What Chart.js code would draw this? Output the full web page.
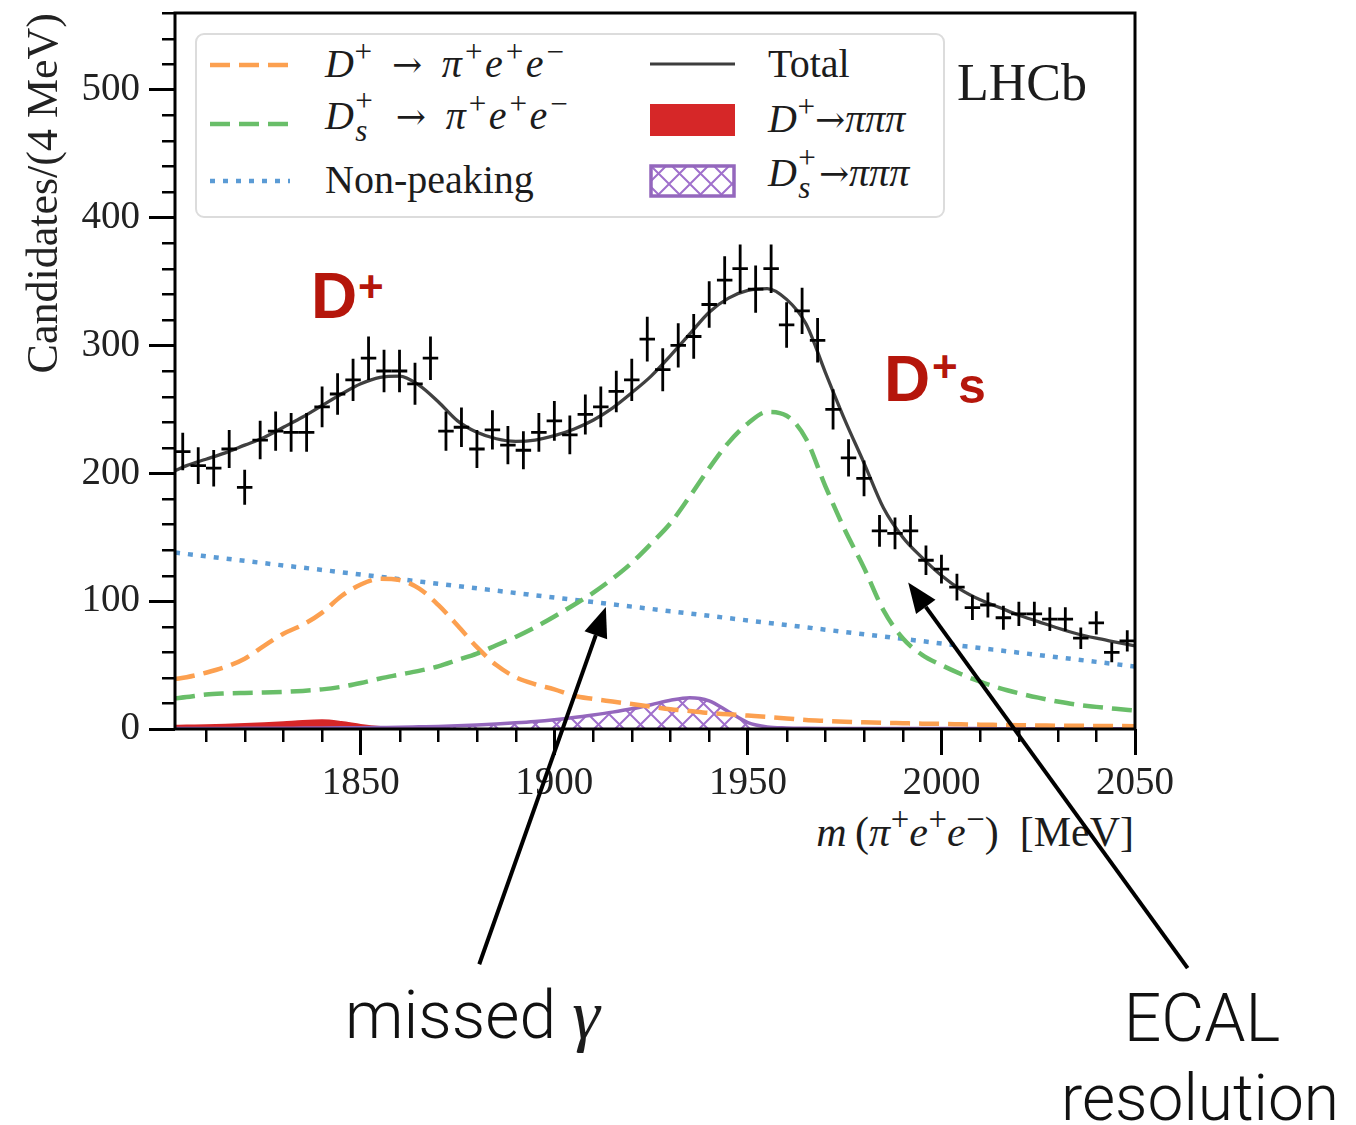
<!DOCTYPE html>
<html>
<head>
<meta charset="utf-8">
<title>m(π+e+e−) fit</title>
<script src="https://cdn.jsdelivr.net/npm/chart.js@4.4.1/dist/chart.umd.min.js"></script>
<style>
  html, body { margin: 0; padding: 0; background: #fff; }
  #wrap { position: relative; width: 1356px; height: 1125px; overflow: hidden; }
  #plot { position: absolute; left: 0; top: 0; z-index: 1; }
  .abs { position: absolute; white-space: nowrap; z-index: 0; }
  .ser { font-family: "Liberation Serif", "Times New Roman", serif; color: #1c1c1c; }
  .lt { font-size: 40px; line-height: 40px; }
  .up { font-size: .78em; position: relative; top: -.48em; margin-left: .02em; }
  .ss { display: inline-block; position: relative; width: .55em; height: 1px; }
  .ss > span { position: absolute; left: .04em; font-size: .78em; line-height: 1; }
  .ss > .a { bottom: .42em; }
  .ss > .b { bottom: -.55em; }
  .ar { font-family: "DejaVu Serif", "Liberation Serif", serif; font-size: .9em; }
  .arr { margin: 0 .55em; }
  .pe { letter-spacing: .06em; }
  #legendBox { left: 195px; top: 33px; width: 750px; height: 185px; box-sizing: border-box;
               border: 2px solid #dcdcdc; border-radius: 9px; background: #fff; }
  .red { font-family: "Liberation Sans", Arial, sans-serif; font-weight: bold; color: #b5160b; }
  .note { font-family: Roboto, "Liberation Sans", Arial, sans-serif; font-weight: 300; color: #111; }
</style>
</head>
<body>
<div id="wrap">
  <!-- legend frame and entries -->
  <div id="legendBox" class="abs"></div>

  <svg class="abs" style="left:208px;top:60px" width="84" height="10"><line x1="2" y1="5" x2="82" y2="5" stroke="#fca050" stroke-width="4.5" stroke-dasharray="20 9"/></svg>
  <svg class="abs" style="left:208px;top:119px" width="84" height="10"><line x1="2" y1="5" x2="82" y2="5" stroke="#69be69" stroke-width="4.5" stroke-dasharray="20 9"/></svg>
  <svg class="abs" style="left:208px;top:176px" width="84" height="10"><line x1="2" y1="5" x2="82" y2="5" stroke="#5b9bd5" stroke-width="4.5" stroke-dasharray="5 8"/></svg>
  <svg class="abs" style="left:648px;top:59px" width="90" height="10"><line x1="2" y1="5" x2="87" y2="5" stroke="#3d3d3d" stroke-width="3.2"/></svg>
  <svg class="abs" style="left:648px;top:102px" width="90" height="36"><rect x="2" y="2" width="85" height="32" fill="#d62728"/></svg>
  <svg class="abs" style="left:648px;top:163px" width="90" height="36">
    <defs><pattern id="xh" width="21" height="21" patternUnits="userSpaceOnUse">
      <path d="M0 0L21 21M21 0L0 21M-21 0L0 21M0 0L-21 21M21 0L42 21M42 0L21 21" stroke="#a070cc" stroke-width="2"/></pattern></defs>
    <rect x="3" y="3" width="83" height="30" fill="#fff"/>
    <rect x="3" y="3" width="83" height="30" fill="url(#xh)" stroke="#9467bd" stroke-width="3.5"/>
  </svg>

  <div class="abs ser lt" style="left:325px;top:44px"><i>D</i><span class="up">+</span><span class="ar arr">→</span><span class="pe"><i>π</i><span class="up">+</span><i>e</i><span class="up">+</span><i>e</i><span class="up">−</span></span></div>
  <div class="abs ser lt" style="left:325px;top:96px"><i>D</i><span class="ss"><span class="a">+</span><span class="b"><i>s</i></span></span><span class="ar arr">→</span><span class="pe"><i>π</i><span class="up">+</span><i>e</i><span class="up">+</span><i>e</i><span class="up">−</span></span></div>
  <div class="abs ser lt" style="left:325px;top:160px">Non-peaking</div>
  <div class="abs ser lt" style="left:768px;top:44px">Total</div>
  <div class="abs ser lt" style="left:768px;top:99px"><i>D</i><span class="up">+</span><span class="ar">→</span><i>πππ</i></div>
  <div class="abs ser lt" style="left:768px;top:153px"><i>D</i><span class="ss"><span class="a">+</span><span class="b"><i>s</i></span></span><span class="ar">→</span><i>πππ</i></div>

  <!-- experiment tag and peak labels -->
  <div class="abs ser" style="left:957px;top:57px;font-size:52px;line-height:52px">LHCb</div>
  <div class="abs red" style="left:311px;top:264px;font-size:64px;line-height:64px">D</div>
  <div class="abs red" style="left:358px;top:265px;font-size:44px;line-height:44px">+</div>
  <div class="abs red" style="left:884px;top:347px;font-size:64px;line-height:64px">D</div>
  <div class="abs red" style="left:932px;top:345px;font-size:44px;line-height:44px">+</div>
  <div class="abs red" style="left:958px;top:361px;font-size:50px;line-height:50px">s</div>

  <!-- x-axis title -->
  <div class="abs ser" style="right:222px;top:811px;font-size:42px;line-height:42px"><i>m</i>&thinsp;(<i>π</i><span class="up">+</span><i>e</i><span class="up">+</span><i>e</i><span class="up">−</span>)&ensp;[MeV]</div>

  <!-- annotations under the arrows -->
  <div class="abs note" style="left:345px;top:982px;font-size:66px;line-height:66px">missed <i class="ser" style="font-size:70px">γ</i></div>
  <div class="abs note" style="left:1000px;top:986px;width:404px;text-align:center;font-size:66px;line-height:66px">ECAL</div>
  <div class="abs note" style="left:998px;top:1066px;width:404px;text-align:center;font-size:64px;line-height:66px">resolution</div>

  <canvas id="plot" width="1356" height="1125"></canvas>
</div>

<script>
// ---- binned candidates (4 MeV bins) ----
const binCentre = [1804,1808,1812,1816,1820,1824,1828,1832,1836,1840,1844,1848,1852,1856,1860,1864,1868,1872,1876,1880,
                   1884,1888,1892,1896,1900,1904,1908,1912,1916,1920,1924,1928,1932,1936,1940,1944,1948,1952,1956,1960,
                   1964,1968,1972,1976,1980,1984,1988,1992,1996,2000,2004,2008,2012,2016,2020,2024,2028,2032,2036,2040,
                   2044,2048];
const candidates = [217,206,204,219,189,226,233,232,232,252,262,273,290,280,280,270,290,233,236,219,
                    234,222,218,232,241,230,246,252,264,273,305,281,300,307,332,351,360,344,360,316,
                    327,304,250,212,196,155,153,155,132,125,111,95,97,87,90,90,86,86,71,83,
                    60,69];
const candErr = [14.7,14.4,14.3,14.8,13.7,15.0,15.3,15.2,15.2,15.9,16.2,16.5,17.0,16.7,16.7,16.4,17.0,15.3,15.4,14.8,
                 15.3,14.9,14.8,15.2,15.5,15.2,15.7,15.9,16.2,16.5,17.5,16.8,17.3,17.5,18.2,18.7,19.0,18.5,19.0,17.8,
                 18.1,17.4,15.8,14.6,14.0,12.4,12.4,12.4,11.5,11.2,10.5,9.7,9.8,9.3,9.5,9.5,9.3,9.3,8.4,9.1,
                 7.7,8.3];
const binHalfWidth = 2;

// ---- fit model components, sampled in mass ----
const fitMass = [1802,1805,1810,1815,1820,1825,1830,1835,1840,1845,1850,1855,1860,1865,1870,1875,1880,1885,1890,1895,
                 1900,1905,1910,1915,1920,1925,1930,1935,1940,1945,1950,1955,1960,1965,1970,1975,1980,1985,1990,1995,
                 2000,2005,2010,2015,2020,2025,2030,2035,2040,2045,2050];
const fitTotal = [202,206,211,216,222,228,236,244,253,262,270,275,276,269,256,241,232,227,225,226,
                  229.5,234.5,241.5,251,263,276,292,309,326,337,343,344.5,336,317,279,242,208,173,150,134,
                  120,109,101,95,89,84,79,74.5,71,68,65];
const fitDpPiEE = [39,40.5,44,48.5,55,65,74.5,81.5,91,104,113,117.5,116.5,110,97,81,64,50,40.5,35,
                   31,26,23.5,21.5,19.5,17.5,15.5,14,12.5,11.5,10.5,9.5,8.3,7,6.3,5.7,5.2,4.8,4.5,4.2,
                   4,3.7,3.4,3.2,3,2.8,2.6,2.5,2.4,2.3,2.2];
const fitDsPiEE = [24,25,27,27.8,28.2,28.5,29,29.8,31,33,36,39.5,42.5,45.5,49,54,59,65.5,72,79.5,
                   88,97,106.5,117.5,130,145,161,182,204,224,239,248,245,227,190,156,126,93,71,58,
                   50,43,37,32,28,24.5,21.5,19,17.3,15.8,14.5];
const fitNonPeaking = [138.0,136.9,135.1,133.3,131.5,129.7,127.9,126.2,124.4,122.6,120.8,119.0,117.2,115.4,113.6,111.8,110.0,108.2,106.4,104.6,
                       102.8,101.1,99.3,97.5,95.7,93.9,92.1,90.3,88.5,86.7,84.9,83.1,81.3,79.5,77.7,75.9,74.1,72.3,70.5,68.7,
                       66.9,65.1,63.3,61.5,59.7,57.9,56.1,54.3,52.5,50.7,48.9];
const fitDp3Pi = [2.5,2.7,3.0,3.4,3.9,4.5,5.3,6.3,6.8,5.5,3.2,1.6,0.9,0.6,0.5,0.5,0.45,0.4,0.4,0.35,
                  0.35,0.3,0.3,0.3,0.3,0.3,0.3,0.3,0.3,0.3,0.3,0.3,0.3,0.3,0.25,0.25,0.25,0.25,0.25,0.25,
                  0.2,0.2,0.2,0.2,0.2,0.2,0.2,0.2,0.2,0.2,0.2];
const fitDs3Pi = [0.3,0.3,0.4,0.4,0.5,0.5,0.6,0.7,0.8,0.9,1.0,1.2,1.4,1.7,2.0,2.5,3.1,3.9,4.8,5.9,
                  7.3,9.0,11.0,13.2,15.8,19.0,22.5,24.5,22.0,13.5,5.0,1.6,0.8,0.5,0.4,0.4,0.3,0.3,0.3,0.3,
                  0.3,0.3,0.3,0.2,0.2,0.2,0.2,0.2,0.2,0.2,0.2];

// ---- axis ticks ----
const xTickValues = [1850, 1900, 1950, 2000, 2050];
const yTickValues = [0, 100, 200, 300, 400, 500];
const xMinorStep = 10, yMinorStep = 20;

function asPoints(xs, ys) { return xs.map((x, i) => ({ x: x, y: ys[i] })); }

// cross-hatch fill for the Ds -> 3pi component
function crossHatch(color) {
  const s = 21;
  const c = document.createElement('canvas');
  c.width = s; c.height = s;
  const g = c.getContext('2d');
  g.fillStyle = '#fff';
  g.fillRect(0, 0, s, s);
  g.strokeStyle = color; g.lineWidth = 2;
  g.beginPath();
  [-s, 0, s].forEach(k => {
    g.moveTo(k, 0); g.lineTo(k + s, s);
    g.moveTo(k + s, 0); g.lineTo(k, s);
  });
  g.stroke();
  return g.createPattern(c, 'repeat');
}

// error bars of the binned data, frame and minor ticks
const dataAndFrame = {
  id: 'dataAndFrame',
  afterDatasetsDraw(chart) {
    const { ctx, chartArea: a, scales: { x, y } } = chart;
    const pts = chart.data.datasets[0].data;
    ctx.save();
    ctx.beginPath(); ctx.rect(a.left, a.top, a.right - a.left, a.bottom - a.top); ctx.clip();
    ctx.strokeStyle = '#000'; ctx.lineWidth = 2.8; ctx.lineCap = 'butt';
    pts.forEach(p => {
      const px = x.getPixelForValue(p.x), py = y.getPixelForValue(p.y);
      ctx.beginPath();
      ctx.moveTo(x.getPixelForValue(p.x - binHalfWidth), py);
      ctx.lineTo(x.getPixelForValue(p.x + binHalfWidth), py);
      ctx.moveTo(px, y.getPixelForValue(p.y - p.err));
      ctx.lineTo(px, y.getPixelForValue(p.y + p.err));
      ctx.stroke();
    });
    ctx.restore();

    ctx.save();
    ctx.strokeStyle = '#000'; ctx.lineWidth = 3;
    ctx.strokeRect(a.left, a.top, a.right - a.left, a.bottom - a.top);
    ctx.lineWidth = 2.5;
    ctx.beginPath();
    for (let v = x.min + (xMinorStep - x.min % xMinorStep) % xMinorStep; v <= x.max; v += xMinorStep) {
      if (v % 50 === 0) continue;
      const px = Math.round(x.getPixelForValue(v)) + 0.25;
      ctx.moveTo(px, a.bottom); ctx.lineTo(px, a.bottom + 13);
    }
    for (let v = yMinorStep; v <= y.max; v += yMinorStep) {
      if (v % 100 === 0) continue;
      const py = Math.round(y.getPixelForValue(v)) + 0.25;
      ctx.moveTo(a.left, py); ctx.lineTo(a.left - 13, py);
    }
    ctx.stroke();
    ctx.restore();
  }
};

// arrows pointing at the features named in the notes below the axes
const pointers = [
  { from: [1880.6, -184], to: [1913.3, 95.5] },
  { from: [2063.6, -187], to: [1991.4, 114.5] }
];
const arrowPlugin = {
  id: 'arrows',
  afterDraw(chart) {
    const { ctx, scales: { x, y } } = chart;
    ctx.save();
    ctx.strokeStyle = '#000'; ctx.fillStyle = '#000'; ctx.lineWidth = 4;
    pointers.forEach(p => {
      const x0 = x.getPixelForValue(p.from[0]), y0 = y.getPixelForValue(p.from[1]);
      const x1 = x.getPixelForValue(p.to[0]), y1 = y.getPixelForValue(p.to[1]);
      const ang = Math.atan2(y1 - y0, x1 - x0);
      const L = 30, W = 12;
      const bx = x1 - L * Math.cos(ang), by = y1 - L * Math.sin(ang);
      ctx.beginPath(); ctx.moveTo(x0, y0); ctx.lineTo(bx, by); ctx.stroke();
      ctx.beginPath();
      ctx.moveTo(x1, y1);
      ctx.lineTo(bx + W * Math.sin(ang), by - W * Math.cos(ang));
      ctx.lineTo(bx - W * Math.sin(ang), by + W * Math.cos(ang));
      ctx.closePath(); ctx.fill();
    });
    ctx.restore();
  }
};

const tickFont = { family: '"Liberation Serif", "Times New Roman", serif', size: 39 };
const curve = { pointRadius: 0, fill: false, cubicInterpolationMode: 'monotone', borderCapStyle: 'butt' };

new Chart(document.getElementById('plot'), {
  type: 'line',
  data: {
    datasets: [
      { label: 'Data', type: 'scatter', order: 0, pointRadius: 0, showLine: false,
        data: binCentre.map((m, i) => ({ x: m, y: candidates[i], err: candErr[i] })) },
      Object.assign({ label: 'Total', order: 1, data: asPoints(fitMass, fitTotal),
        borderColor: '#404040', borderWidth: 3.3 }, curve),
      Object.assign({ label: 'D+ → π+e+e−', order: 3, data: asPoints(fitMass, fitDpPiEE),
        borderColor: '#fca050', borderWidth: 4.5, borderDash: [20, 9] }, curve),
      Object.assign({ label: 'Ds+ → π+e+e−', order: 2, data: asPoints(fitMass, fitDsPiEE),
        borderColor: '#69be69', borderWidth: 4.5, borderDash: [20, 9] }, curve),
      Object.assign({ label: 'Non-peaking', order: 4, data: asPoints(fitMass, fitNonPeaking),
        borderColor: '#5b9bd5', borderWidth: 4.5, borderDash: [5, 8] }, curve),
      Object.assign({}, curve, { label: 'Ds+→πππ', order: 5, data: asPoints(fitMass, fitDs3Pi),
        borderColor: '#9467bd', borderWidth: 3.5, fill: 'origin', backgroundColor: crossHatch('#a070cc') }),
      Object.assign({}, curve, { label: 'D+→πππ', order: 6, data: asPoints(fitMass, fitDp3Pi),
        borderColor: '#d62728', borderWidth: 2, fill: 'origin', backgroundColor: '#d62728' })
    ]
  },
  options: {
    responsive: false,
    animation: false,
    devicePixelRatio: 1,
    layout: { padding: { top: 13, right: 221, left: 0, bottom: 0 } },
    plugins: { legend: { display: false }, tooltip: { enabled: false } },
    scales: {
      x: {
        type: 'linear', min: 1802, max: 2050,
        afterBuildTicks: s => { s.ticks = xTickValues.map(v => ({ value: v })); },
        afterFit: s => { s.height = 396; s.paddingLeft = 0; s.paddingRight = 0; },
        ticks: { font: tickFont, color: '#222', padding: 5, maxRotation: 0, autoSkip: false,
                 callback: v => String(v) },
        grid: { drawOnChartArea: false, drawTicks: true, tickLength: 26, tickWidth: 3, tickColor: '#000' },
        border: { display: false }
      },
      y: {
        type: 'linear', min: 0, max: 560,
        afterBuildTicks: s => { s.ticks = yTickValues.map(v => ({ value: v })); },
        afterFit: s => { s.width = 175; s.paddingTop = 0; s.paddingBottom = 0; },
        ticks: { font: tickFont, color: '#222', padding: 9, callback: v => String(v) },
        grid: { drawOnChartArea: false, drawTicks: true, tickLength: 26, tickWidth: 3, tickColor: '#000' },
        border: { display: false },
        title: { display: true, text: 'Candidates/(4 MeV)', align: 'end', color: '#222',
                 font: { family: '"Liberation Serif", "Times New Roman", serif', size: 44 },
                 padding: { top: 19, bottom: 0 } }
      }
    }
  },
  plugins: [dataAndFrame, arrowPlugin]
});
</script>
</body>
</html>
